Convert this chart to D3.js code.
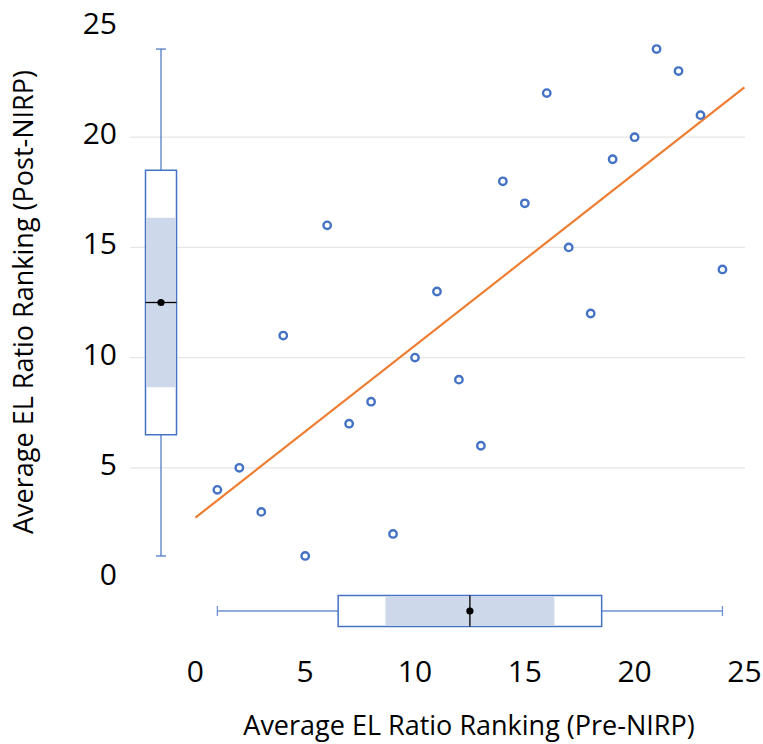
<!DOCTYPE html>
<html>
<head>
<meta charset="utf-8">
<script src="https://cdn.jsdelivr.net/npm/d3@7"></script>
<style>
  body { margin: 0; background: #fff; }
  svg { display: block; font-family: "Open Sans", Lato, sans-serif; }
</style>
</head>
<body>
<svg id="chart" width="763" height="744"></svg>
<script>
// Data: EL ratio ranking pre vs post NIRP
const preRank  = [1, 2, 3, 4, 5, 6, 7, 8, 9, 10, 11, 12, 13, 14, 15, 16, 17, 18, 19, 20, 21, 22, 23, 24];
const postRank = [4, 5, 3, 11, 1, 16, 7, 8, 2, 10, 13, 9, 6, 18, 17, 22, 15, 12, 19, 20, 24, 23, 21, 14];
const tickValues = [0, 5, 10, 15, 20, 25];
const gridValues = [5, 10, 15, 20];
const xTitle = "Average EL Ratio Ranking (Pre-NIRP)";
const yTitle = "Average EL Ratio Ranking (Post-NIRP)";

const svg = d3.select("#chart");
const x = d3.scaleLinear().domain([0, 25]).range([195.4, 744.4]);
const y = d3.scaleLinear().domain([0, 25]).range([578, 27]);

const blue = "#4472C4";
const orange = "#ED7D31";
const fillCI = "#CDD8EA";

// gridlines
svg.append("g").selectAll("line").data(gridValues).join("line")
  .attr("x1", 130).attr("x2", 745)
  .attr("y1", d => y(d)).attr("y2", d => y(d))
  .attr("stroke", "#e6e6e6").attr("stroke-width", 1.2);

// tick labels
svg.append("g").selectAll("text").data(tickValues).join("text")
  .attr("x", 117).attr("y", d => y(d) - 4.5)
  .attr("text-anchor", "end").attr("dominant-baseline", "central")
  .attr("font-size", 30).attr("fill", "#000").text(d => d);
svg.append("g").selectAll("text").data(tickValues).join("text")
  .attr("x", d => x(d)).attr("y", 670)
  .attr("text-anchor", "middle").attr("dominant-baseline", "central")
  .attr("font-size", 30).attr("fill", "#000").text(d => d);

// axis titles
svg.append("text").attr("x", 469).attr("y", 735)
  .attr("text-anchor", "middle").attr("font-size", 27).attr("fill", "#000").text(xTitle);
svg.append("text").attr("transform", "translate(33,302) rotate(-90)")
  .attr("text-anchor", "middle").attr("font-size", 27).attr("fill", "#000").text(yTitle);

// box stats (Tukey hinges, median notch)
function stats(vals) {
  const s = vals.slice().sort((a, b) => a - b);
  const n = s.length;
  const med = d3.median(s);
  const half = Math.floor(n / 2);
  const q1 = d3.median(s.slice(0, half));
  const q3 = d3.median(s.slice(n - half));
  const iqr = q3 - q1;
  const notch = 1.57 * iqr / Math.sqrt(n);
  return { min: s[0], max: s[n - 1], q1, q3, med, mean: d3.mean(s), lo: med - notch, hi: med + notch };
}

// vertical box plot (post)
(function () {
  const st = stats(postRank);
  const cx = 161, w = 31, g = svg.append("g");
  g.append("line").attr("x1", cx).attr("x2", cx).attr("y1", y(st.max)).attr("y2", y(st.q3)).attr("stroke", blue).attr("stroke-width", 1.2);
  g.append("line").attr("x1", cx).attr("x2", cx).attr("y1", y(st.q1)).attr("y2", y(st.min)).attr("stroke", blue).attr("stroke-width", 1.2);
  g.append("line").attr("x1", cx - 5).attr("x2", cx + 5).attr("y1", y(st.max)).attr("y2", y(st.max)).attr("stroke", blue).attr("stroke-width", 1.2);
  g.append("line").attr("x1", cx - 5).attr("x2", cx + 5).attr("y1", y(st.min)).attr("y2", y(st.min)).attr("stroke", blue).attr("stroke-width", 1.2);
  g.append("rect").attr("x", cx - w / 2).attr("width", w).attr("y", y(st.q3)).attr("height", y(st.q1) - y(st.q3))
    .attr("fill", "#fff").attr("stroke", blue).attr("stroke-width", 1.5);
  g.append("rect").attr("x", cx - w / 2 + 0.75).attr("width", w - 1.5).attr("y", y(st.hi)).attr("height", y(st.lo) - y(st.hi))
    .attr("fill", fillCI);
  g.append("line").attr("x1", cx - w / 2).attr("x2", cx + w / 2).attr("y1", y(st.med)).attr("y2", y(st.med)).attr("stroke", "#000").attr("stroke-width", 1.3);
  g.append("circle").attr("cx", cx).attr("cy", y(st.mean)).attr("r", 3.6).attr("fill", "#000");
})();

// horizontal box plot (pre)
(function () {
  const st = stats(preRank);
  const cy = 611, h = 31, g = svg.append("g");
  const wc = "#6f93d2";
  g.append("line").attr("y1", cy).attr("y2", cy).attr("x1", x(st.min)).attr("x2", x(st.q1)).attr("stroke", wc).attr("stroke-width", 1.3);
  g.append("line").attr("y1", cy).attr("y2", cy).attr("x1", x(st.q3)).attr("x2", x(st.max)).attr("stroke", wc).attr("stroke-width", 1.3);
  g.append("line").attr("y1", cy - 5).attr("y2", cy + 5).attr("x1", x(st.min)).attr("x2", x(st.min)).attr("stroke", wc).attr("stroke-width", 1.3);
  g.append("line").attr("y1", cy - 5).attr("y2", cy + 5).attr("x1", x(st.max)).attr("x2", x(st.max)).attr("stroke", wc).attr("stroke-width", 1.3);
  g.append("rect").attr("y", cy - h / 2).attr("height", h).attr("x", x(st.q1)).attr("width", x(st.q3) - x(st.q1))
    .attr("fill", "#fff").attr("stroke", blue).attr("stroke-width", 1.5);
  g.append("rect").attr("y", cy - h / 2 + 0.75).attr("height", h - 1.5).attr("x", x(st.lo)).attr("width", x(st.hi) - x(st.lo))
    .attr("fill", fillCI);
  g.append("line").attr("y1", cy - h / 2).attr("y2", cy + h / 2).attr("x1", x(st.med)).attr("x2", x(st.med)).attr("stroke", "#000").attr("stroke-width", 1.3);
  g.append("circle").attr("cx", x(st.mean)).attr("cy", cy).attr("r", 3.6).attr("fill", "#000");
})();

// regression trend line
(function () {
  const mx = d3.mean(preRank), my = d3.mean(postRank);
  let sxy = 0, sxx = 0;
  preRank.forEach((v, i) => { sxy += (v - mx) * (postRank[i] - my); sxx += (v - mx) * (v - mx); });
  const b = sxy / sxx, a = my - b * mx;
  svg.append("line")
    .attr("x1", x(0)).attr("y1", y(a))
    .attr("x2", x(25)).attr("y2", y(a + b * 25))
    .attr("stroke", orange).attr("stroke-width", 2.2);
})();

// scatter points
svg.append("g").selectAll("circle").data(preRank.map((v, i) => [v, postRank[i]])).join("circle")
  .attr("cx", d => x(d[0])).attr("cy", d => y(d[1])).attr("r", 3.7)
  .attr("fill", "#fff").attr("stroke", blue).attr("stroke-width", 2.4);
</script>
</body>
</html>
